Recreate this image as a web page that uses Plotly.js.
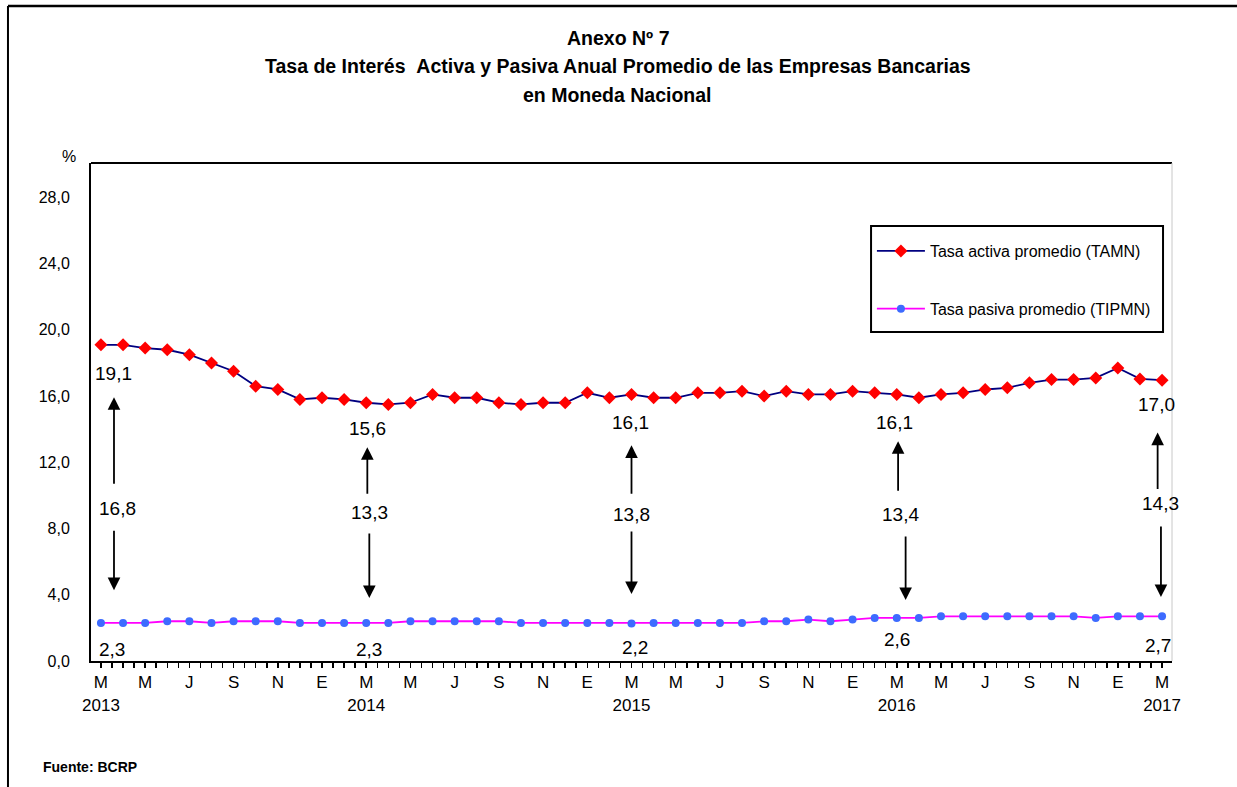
<!DOCTYPE html>
<html><head><meta charset="utf-8">
<script src="https://cdn.plot.ly/plotly-3.0.1.min.js"></script>
<style>html,body{margin:0;padding:0;background:#fff}#chart{width:1237px;height:787px}</style>
</head><body><div id="chart"></div>
<script>
// Monthly data, March 2013 .. March 2017 (49 months)
const TAMN = [19.1,19.1,18.9,18.8,18.5,18.0,17.5,16.6,16.4,15.8,15.9,15.8,15.6,15.5,15.6,16.1,
              15.9,15.9,15.6,15.5,15.6,15.6,16.2,15.9,16.1,15.9,15.9,16.2,16.2,16.3,16.0,16.3,
              16.1,16.1,16.3,16.2,16.1,15.9,16.1,16.2,16.4,16.5,16.8,17.0,17.0,17.1,17.7,17.04,16.96];
const TIPMN = [2.3,2.3,2.3,2.4,2.4,2.3,2.4,2.4,2.4,2.3,2.3,2.3,2.3,2.3,2.4,2.4,
               2.4,2.4,2.4,2.3,2.3,2.3,2.3,2.3,2.27,2.3,2.3,2.3,2.3,2.3,2.4,2.4,
               2.5,2.4,2.5,2.6,2.6,2.6,2.7,2.7,2.7,2.7,2.7,2.7,2.7,2.6,2.7,2.7,2.7];
const monthTicks = ["M","M","J","S","N","E","M","M","J","S","N","E","M","M","J","S","N","E","M","M","J","S","N","E","M"];
const years = ["2013","2014","2015","2016","2017"];
const markIdx = [0,12,24,36,48];
const topLabels = [19.1,15.6,16.1,16.1,17.0];
const bottomLabels = [2.3,2.3,2.2,2.6,2.7];
const spreadLabels = [16.8,13.3,13.8,13.4,14.3];
const yTicks = [0,4,8,12,16,20,24,28];

const FONT = 'Liberation Sans, Arial, sans-serif';
const x = TAMN.map((_, i) => i);
const fmt = v => v.toFixed(1).replace('.', ',');
const tickvals = monthTicks.map((_, k) => 2 * k);
const ticktext = monthTicks.map((m, k) => {
  const yi = markIdx.indexOf(2 * k);
  return yi >= 0 ? m + '<br>' + years[yi] : m;
});

// annotation placement (pixel offsets / positions)
const topOff = [[13,-29],[1,-26],[-1,-28],[-2,-28],[-6,-24]];
const botOff = [[11,-27],[3,-27],[3,-24],[0,-22],[-4,-29]];
const arrowCfg = [
  {ux:0.59, upTip:15.93, upLen:88, tx:0.77, ty:9.23, dx:0.59, dnTip:4.28, dnLen:61},
  {ux:12.05, upTip:12.91, upLen:48, tx:12.14, ty:8.99, dx:12.14, dnTip:3.80, dnLen:66},
  {ux:24.0, upTip:13.03, upLen:50, tx:24.0, ty:8.87, dx:24.0, dnTip:4.04, dnLen:64},
  {ux:36.06, upTip:13.28, upLen:51, tx:36.15, ty:8.87, dx:36.4, dnTip:3.68, dnLen:65},
  {ux:47.8, upTip:13.8, upLen:58, tx:47.95, ty:9.53, dx:47.95, dnTip:3.86, dnLen:72}
];

const annotations = [];
markIdx.forEach((idx, k) => {
  annotations.push({x: idx, y: TAMN[idx], xref:'x', yref:'y', text: fmt(topLabels[k]), showarrow:false,
    xshift: topOff[k][0], yshift: topOff[k][1], font:{family:FONT, size:19, color:'#000'}});
  annotations.push({x: idx, y: TIPMN[idx], xref:'x', yref:'y', text: fmt(bottomLabels[k]), showarrow:false,
    xshift: botOff[k][0], yshift: botOff[k][1], font:{family:FONT, size:19, color:'#000'}});
  const a = arrowCfg[k];
  annotations.push({x: a.tx, y: a.ty, xref:'x', yref:'y', text: fmt(spreadLabels[k]), showarrow:false,
    font:{family:FONT, size:19, color:'#000'}});
  annotations.push({x: a.ux, y: a.upTip, xref:'x', yref:'y', text:'', showarrow:true, ax:0, ay:a.upLen,
    arrowhead:2, arrowsize:1.4, arrowwidth:1.8, arrowcolor:'#000', standoff:0});
  annotations.push({x: a.dx, y: a.dnTip, xref:'x', yref:'y', text:'', showarrow:true, ax:0, ay:-a.dnLen,
    arrowhead:2, arrowsize:1.4, arrowwidth:1.8, arrowcolor:'#000', standoff:0});
});
// titles and notes
const titleLines = ['Anexo Nº 7', 'Tasa de Interés  Activa y Pasiva Anual Promedio de las Empresas Bancarias', 'en Moneda Nacional'];
const titleY = [1.251, 1.1945, 1.1365];
titleLines.forEach((t, i) => annotations.push({xref:'paper', yref:'paper', x:0.4875, y:titleY[i], text:'<b>'+t.replace(/  /g,' &nbsp;')+'</b>',
  showarrow:false, xanchor:'center', yanchor:'middle', font:{family:FONT, size:19.5, color:'#000'}}));
annotations.push({xref:'paper', yref:'paper', x:-0.0287, y:1.034, text:'%', showarrow:false, font:{family:FONT, size:16, color:'#000'}});
annotations.push({xref:'paper', yref:'paper', x:-0.0462, y:-0.213, text:'<b>Fuente:</b> <b>BCRP</b>', showarrow:false,
  xanchor:'left', yanchor:'middle', font:{family:FONT, size:14, color:'#000'}});

const traces = [
  {x, y: TAMN, type:'scatter', mode:'lines+markers', name:'Tasa activa promedio (TAMN)', legendgroup:'a',
   line:{color:'#000080', width:1.8}, marker:{symbol:'diamond', size:10, color:'#ff0000'}},
  {x, y: TIPMN, type:'scatter', mode:'lines+markers', name:'Tasa pasiva promedio (TIPMN)', legendgroup:'b',
   line:{color:'#ff00ff', width:1.8}, marker:{symbol:'circle', size:8, color:'#3d6bff'}}
];

const layout = {
  width:1237, height:787,
  margin:{l:91, r:65, t:163, b:126},
  paper_bgcolor:'#fff', plot_bgcolor:'#fff',
  font:{family:FONT, color:'#000'},
  showlegend:true,
  legend:{x:0.7224, y:0.8574, xanchor:'left', yanchor:'top', bgcolor:'rgba(0,0,0,0)', borderwidth:0,
    font:{family:FONT, size:16, color:'#000'}, itemwidth:48, tracegroupgap:34, traceorder:'grouped'},
  xaxis:{range:[-0.45, 48.45], tickmode:'array', tickvals, ticktext, showgrid:false, zeroline:false,
    showline:true, linecolor:'#000', linewidth:2, ticks:'outside', ticklen:5, tickcolor:'#000', tickwidth:1.5,
    tickfont:{family:FONT, size:17, color:'#000'}, tickangle:0,
    minor:{tickmode:'linear', tick0:0, dtick:0.5, ticks:'outside', ticklen:5, tickcolor:'#000', tickwidth:1.5, showgrid:false}},
  yaxis:{range:[0, 30.08], tickmode:'array', tickvals:yTicks, ticktext:yTicks.map(fmt), showgrid:false, zeroline:false,
    showline:true, linecolor:'#000', linewidth:2, ticks:'', ticklabelstandoff:16,
    tickfont:{family:FONT, size:16, color:'#000'}},
  annotations,
  shapes:[
    {type:'line', xref:'paper', yref:'paper', x0:0, x1:1, y0:1, y1:1, line:{color:'#000', width:2}},
    {type:'line', xref:'paper', yref:'paper', x0:1, x1:1, y0:0, y1:1, line:{color:'#c8c8c8', width:1}},
    {type:'rect', xref:'paper', yref:'paper', x0:0.7216, x1:0.9917, y0:0.6606, y1:0.8735, line:{color:'#000', width:2}},
    {type:'line', xref:'paper', yref:'paper', x0:-0.0768, x1:-0.0768, y0:-0.27, y1:1.3153, line:{color:'#000', width:2}},
    {type:'line', xref:'paper', yref:'paper', x0:-0.0768, x1:1.08, y0:1.3153, y1:1.3153, line:{color:'#000', width:2.5}}
  ]
};
Plotly.newPlot('chart', traces, layout, {displayModeBar:false, staticPlot:true});
</script>
</body></html>
